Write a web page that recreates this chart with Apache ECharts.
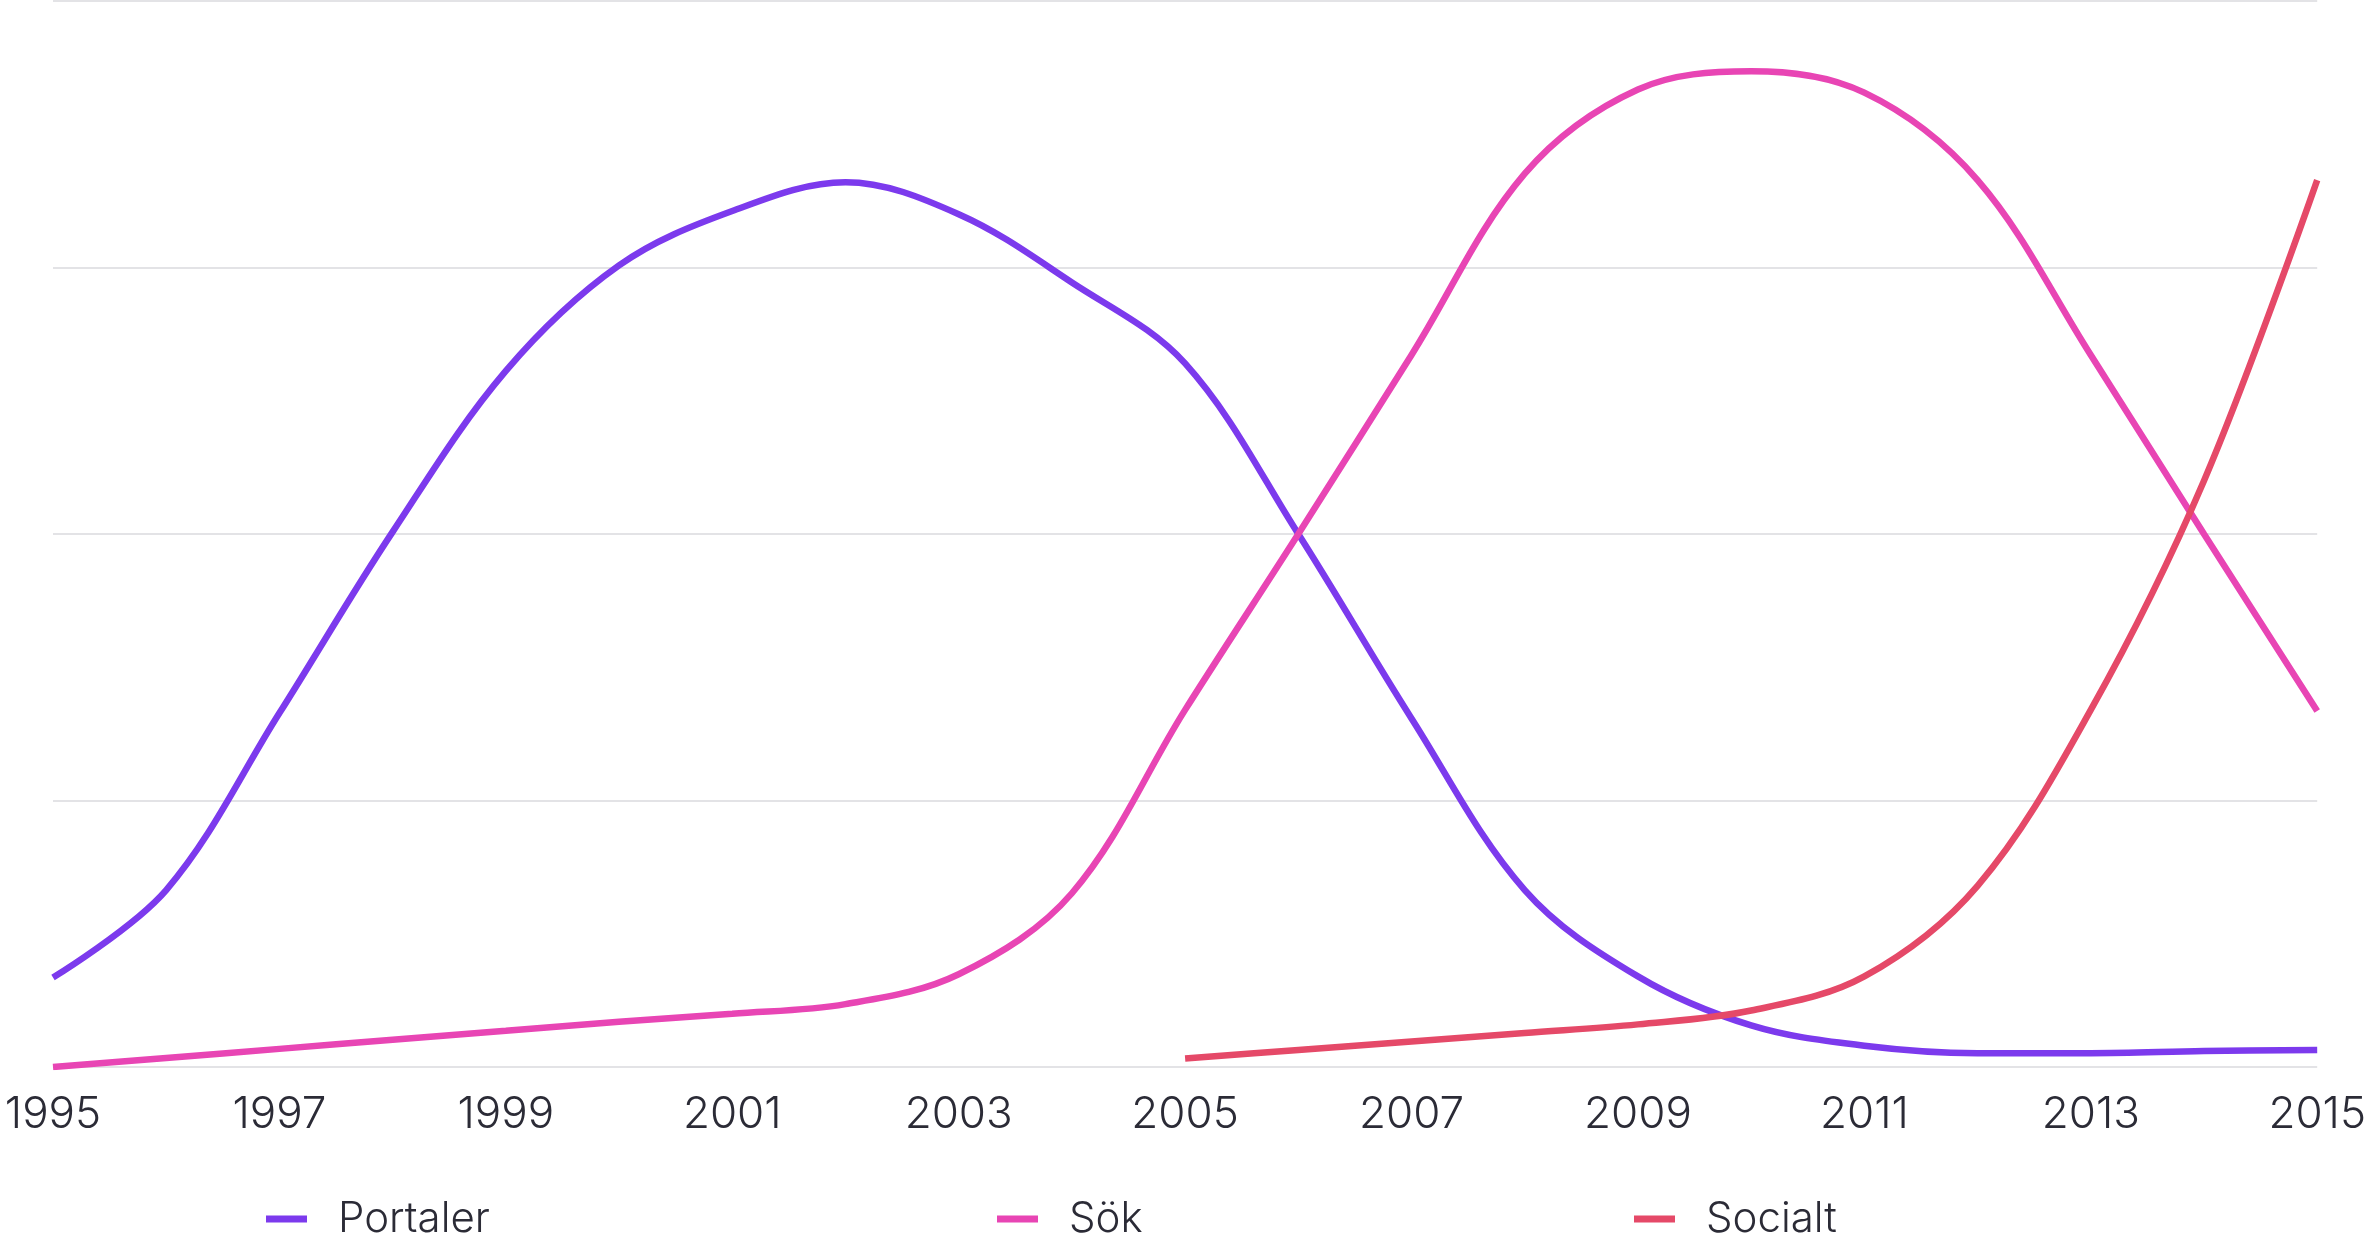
<!DOCTYPE html>
<html>
<head>
<meta charset="utf-8">
<script src="https://cdn.jsdelivr.net/npm/echarts@6/dist/echarts.min.js"></script>
<style>
  html, body { margin: 0; padding: 0; background: #fff; }
  #chart { width: 2369px; height: 1243px; }
</style>
</head>
<body>
<div id="chart"></div>
<script>
var years = ['1995','1996','1997','1998','1999','2000','2001','2002','2003','2004',
             '2005','2006','2007','2008','2009','2010','2011','2012','2013','2014','2015'];

var portaler = [8.4, 16.6, 33.2, 50.2, 65.3, 75.2, 80.3, 83.0, 80.0, 73.6,
                66.0, 50.0, 32.7, 16.6, 8.5, 3.9, 2.0, 1.3, 1.3, 1.5, 1.6];
var sok      = [0, 0.85, 1.7, 2.55, 3.4, 4.25, 5.0, 5.9, 8.7, 16.3,
                33.5, 50.0, 66.8, 83.8, 91.7, 93.4, 91.4, 83.2, 66.8, 50.0, 33.4];
var socialt  = [null, null, null, null, null, null, null, null, null, null,
                0.8, 1.6, 2.4, 3.2, 4.0, 5.3, 8.5, 17.0, 33.5, 55.0, 83.2];

var seriesNames = ['Portaler', 'Sök', 'Socialt'];
var colors = ['#7c3aed', '#e845b4', '#e54968'];

/* 初始化 */
var myChart = echarts.init(document.getElementById('chart'));

var fontFamily = 'Inter, Lato, sans-serif';
var textColor = '#2b2b36';

function legendAt(name, left) {
    return {
        data: [name],
        left: left,
        top: 1198,
        padding: 0,
        itemWidth: 41,
        itemHeight: 7,
        icon: 'rect',
        textStyle: {
            fontFamily: fontFamily,
            fontWeight: 300,
            fontSize: 42,
            color: textColor,
            padding: [0, 0, 0, 26]
        }
    };
}

var option = {
    animation: false,
    color: colors,
    legend: [
        legendAt(seriesNames[0], 266),
        legendAt(seriesNames[1], 997),
        legendAt(seriesNames[2], 1634)
    ],
    grid: {
        left: 53,
        right: 50,
        top: 1,
        bottom: 176,
        containLabel: false
    },
    xAxis: {
        type: 'category',
        data: years,
        boundaryGap: false,
        axisLine: { show: false },
        axisTick: { show: false },
        axisLabel: {
            interval: 1,
            margin: 26,
            fontFamily: fontFamily,
            fontWeight: 300,
            fontSize: 44,
            color: textColor
        }
    },
    yAxis: {
        type: 'value',
        min: 0,
        max: 100,
        interval: 25,
        axisLabel: { show: false },
        axisLine: { show: false },
        axisTick: { show: false },
        splitLine: { lineStyle: { color: '#e3e3e6', width: 2 } }
    },
    series: [
        { name: seriesNames[0], type: 'line', data: portaler, smooth: 0.35, showSymbol: false,
          lineStyle: { width: 6.5, color: colors[0] } },
        { name: seriesNames[1], type: 'line', data: sok, smooth: 0.35, showSymbol: false,
          lineStyle: { width: 6.5, color: colors[1] } },
        { name: seriesNames[2], type: 'line', data: socialt, smooth: 0.35, showSymbol: false,
          lineStyle: { width: 6.5, color: colors[2] } }
    ]
};

/* 生成图表 */
myChart.setOption(option);
</script>
</body>
</html>
